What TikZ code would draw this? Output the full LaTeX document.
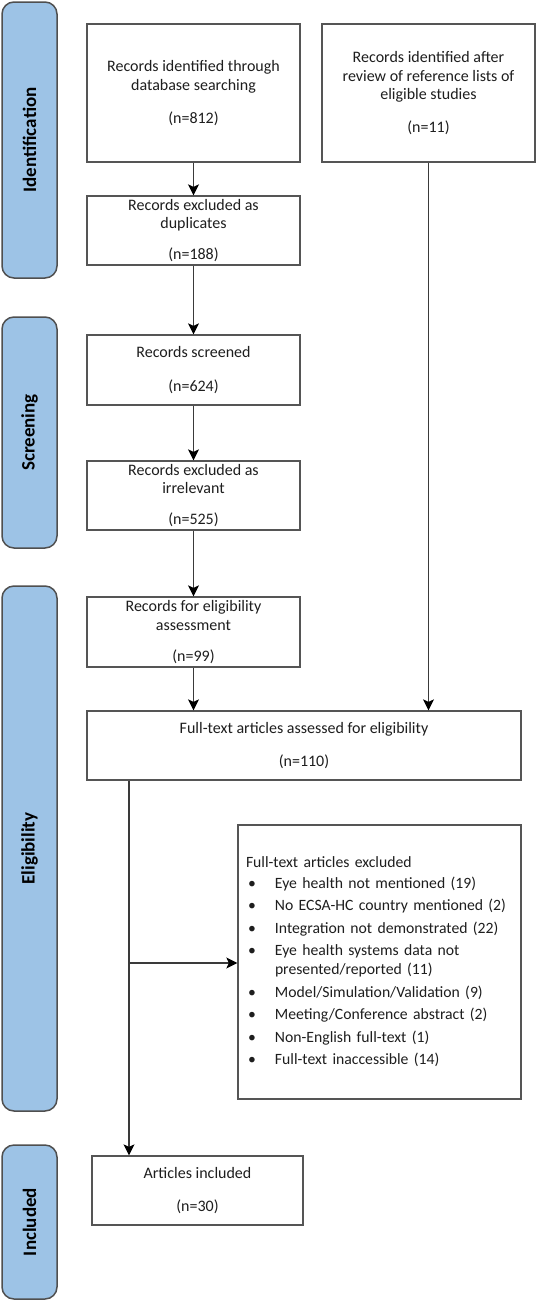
\documentclass[tikz,border=0pt]{standalone}
\usepackage{fontspec}
\setmainfont{Carlito}
\usetikzlibrary{arrows.meta}
\definecolor{sidefill}{HTML}{9DC3E6}
\definecolor{sidedraw}{HTML}{4F4F4F}
\definecolor{boxdraw}{HTML}{555555}
\definecolor{conncol}{HTML}{3A3A3A}
\definecolor{txt}{HTML}{1E1E1E}
\begin{document}
\begin{tikzpicture}[x=1pt,y=-1pt,
  box/.style={draw=boxdraw, line width=1.3pt, fill=white, align=center, text=txt,
    font=\fontsize{16}{18.5}\selectfont, inner sep=0pt, minimum width=213pt},
  phase/.style={draw=sidedraw, line width=1.5pt, fill=sidefill, rounded corners=12pt,
    rotate=90, minimum height=55pt, font=\bfseries\fontsize{19}{22}\selectfont,
    text=black, inner sep=0pt},
  conn/.style={draw=conncol, line width=1.3pt,
    -{Stealth[length=11pt,width=11pt,inset=2.5pt,color=black]}}]
\useasboundingbox (0,0) rectangle (539,1301);

% phase bars
\node[phase, minimum width=276pt] (pid) at (29.5,140) {Identification};
\node[phase, minimum width=231pt] (pscr) at (29.5,432.5) {Screening};
\node[phase, minimum width=525pt] (pel) at (29.5,848.5) {Eligibility};
\node[phase, minimum width=154pt] (pinc) at (29.5,1222) {Included};

% boxes
\node[box, minimum height=138pt] (db) at (193.5,93)
  {Records identified through\\database searching\\[14.5pt](n=812)};
\node[box, minimum height=138pt] (ref) at (428.5,93)
  {Records identified after\\review of reference lists of\\eligible studies\\[14pt](n=11)};
\node[box, minimum height=69pt] (dup) at (193.5,230.5)
  {Records excluded as\\duplicates\\[12.5pt](n=188)};
\node[box, minimum height=70pt] (scr) at (193.5,370)
  {Records screened\\[15pt](n=624)};
\node[box, minimum height=69pt] (irr) at (193.5,495.5)
  {Records excluded as\\irrelevant\\[12.5pt](n=525)};
\node[box, minimum height=70pt] (elig) at (193.5,632)
  {Records for eligibility\\assessment\\[12.5pt](n=99)};
\node[box, minimum width=434pt, minimum height=69pt] (full) at (304,745.5)
  {Full-text articles assessed for eligibility\\[14.5pt](n=110)};
\node[box, minimum width=283pt, minimum height=274pt, text width=267pt,
  align=left, inner xsep=8pt] (excl) at (379.5,962)
  {\fontsize{15.7}{19}\selectfont
   \begin{tabular}{@{\hspace{2pt}}p{27pt}@{}l@{}}
   \multicolumn{2}{@{}l@{}}{Full-text articles excluded}\\[2pt]
   \textbullet & Eye health not mentioned (19)\\[3.5pt]
   \textbullet & No ECSA-HC country mentioned (2)\\[3.5pt]
   \textbullet & Integration not demonstrated (22)\\[3.5pt]
   \textbullet & Eye health systems data not\\
               & presented/reported (11)\\[3.5pt]
   \textbullet & Model/Simulation/Validation (9)\\[3.5pt]
   \textbullet & Meeting/Conference abstract (2)\\[3.5pt]
   \textbullet & Non-English full-text (1)\\[3.5pt]
   \textbullet & Full-text inaccessible (14)
   \end{tabular}};
\node[box, minimum width=211pt, minimum height=69pt] (art) at (197.5,1190.5)
  {Articles included\\[15pt](n=30)};

% connectors
\draw[conn] (db) -- (dup);
\draw[conn] (dup) -- (scr);
\draw[conn] (scr) -- (irr);
\draw[conn] (irr) -- (elig);
\draw[conn] (elig) -- (elig.south |- full.north);
\draw[conn] (ref) -- (ref.south |- full.north);
\coordinate (split) at (129,963);
\draw[conn] (full.south -| split) -- (split |- art.north);
\draw[conn] (split) -- (split -| excl.west);
\end{tikzpicture}
\end{document}
